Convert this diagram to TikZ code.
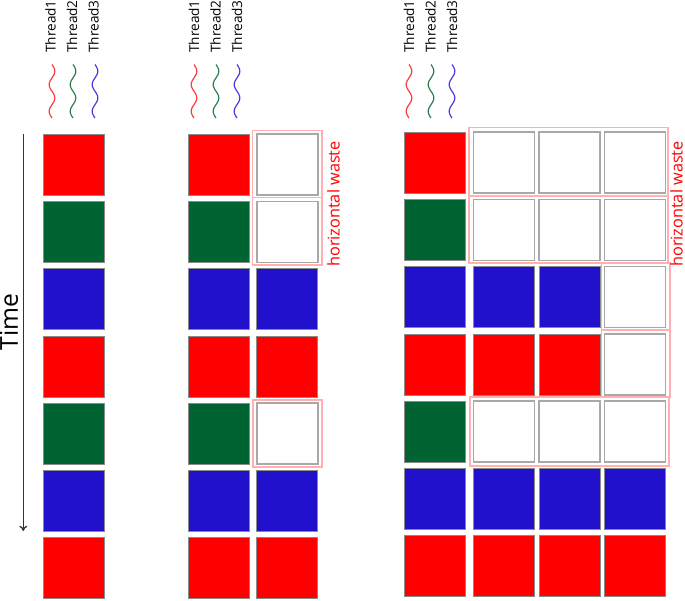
\documentclass[tikz,border=0pt]{standalone}
\usepackage{fontspec}
\newfontfamily\osans{Open Sans}
\usetikzlibrary{arrows.meta}
\definecolor{cred}{HTML}{FF0000}
\definecolor{cgreen}{HTML}{006432}
\definecolor{cblue}{HTML}{2211CC}
\definecolor{wred}{HTML}{FF3B3B}
\definecolor{wgreen}{HTML}{2E7D4E}
\definecolor{wblue}{HTML}{4A3BE0}
\definecolor{wastepink}{HTML}{FFB0B0}
\definecolor{cellgray}{HTML}{8A8A8A}
\definecolor{boxgray}{HTML}{A8A8A8}
\tikzset{
  cell/.style={draw=cellgray, line width=0.6pt, minimum size=45.75pt, inner sep=0pt, outer sep=0pt},
  rcell/.style={cell, fill=cred},
  gcell/.style={cell, fill=cgreen},
  bcell/.style={cell, fill=cblue},
  wcell/.style={cell, fill=white, draw=boxgray, line width=1.2pt},
  waste/.style={draw=wastepink, line width=0.8pt},
  thlbl/.style={font=\osans\fontsize{10.2}{12}\selectfont, rotate=90, anchor=west, inner sep=0pt},
  wastelbl/.style={font=\osans\fontsize{12.2}{14}\selectfont, text=red, rotate=90, anchor=west, inner sep=0pt},
  wave/.style={line width=0.9pt},
}
\begin{document}
\begin{tikzpicture}[x=0.75pt,y=-0.75pt]
\useasboundingbox (0,0) rectangle (685,600);
% Time axis
\coordinate (ts) at (23.3,134);
\coordinate (te) at (23.3,531);
\draw[line width=1pt, draw=black!80, -{To[length=4pt,width=6pt]}] (ts) -- (te);
\node[font=\osans\fontsize{18.5}{22}\selectfont, rotate=90, inner sep=0pt] (time) at (9,322) {Time};

% column 1
\foreach \s [count=\i from 0] in {rcell,gcell,bcell,rcell,gcell,bcell,rcell}
  \node[\s] (a\i) at (73.5,{164.5+67.3*\i}) {};
% column 2
\foreach \s [count=\i from 0] in {rcell,gcell,bcell,rcell,gcell,bcell,rcell}
  \node[\s] (b\i) at (218.5,{164.5+67.3*\i}) {};
\foreach \s [count=\i from 0] in {wcell,wcell,bcell,rcell,wcell,bcell,rcell}
  \node[\s] (bb\i) at (287.3,{164.5+67.3*\i}) {};
% column 3
\foreach \sa/\sb/\sc/\sd [count=\i from 0] in {rcell/wcell/wcell/wcell,gcell/wcell/wcell/wcell,bcell/bcell/bcell/wcell,rcell/rcell/rcell/wcell,gcell/wcell/wcell/wcell,bcell/bcell/bcell/bcell,rcell/rcell/rcell/rcell}{
  \node[\sa] (c\i a) at (434.5,{162.5+67.3*\i}) {};
  \node[\sb] (c\i b) at (503.8,{162.5+67.3*\i}) {};
  \node[\sc] (c\i c) at (569.7,{162.5+67.3*\i}) {};
  \node[\sd] (c\i d) at (635,{162.5+67.3*\i}) {};
}

% waste outlines column 2
\draw[waste] (252.5,130.5) rectangle (322,197.5);
\draw[waste] (252.5,197.5) rectangle (322,265);
\draw[waste] (253,400) rectangle (322,467);
% waste outlines column 3
\draw[waste] (469,127.5) rectangle (668,196);
\draw[waste] (469,196) rectangle (668,263);
\draw[waste] (601.5,263) rectangle (670,330);
\draw[waste] (601.5,330) rectangle (670,397);
\draw[waste] (470,397) rectangle (669,466);

\node[wastelbl] (w2) at (333.5,267) {horizontal waste};
\node[wastelbl] (w3) at (676.5,267) {horizontal waste};

% thread labels and waves
\foreach \wx/\n [count=\k] in {50.5/1,72/2,93.5/3}
  \node[thlbl] (ta\k) at (\wx,53) {Thread\n};
\foreach \wx/\n [count=\k] in {194/1,215.5/2,237/3}
  \node[thlbl] (tb\k) at (\wx,53) {Thread\n};
\foreach \wx/\n [count=\k] in {409/1,430.5/2,452/3}
  \node[thlbl] (tc\k) at (\wx,53) {Thread\n};

\foreach \wx/\c in {52/wred,73/wgreen,95/wblue,194/wred,216/wgreen,237/wblue,409/wred,431/wgreen,452/wblue}
  \draw[wave, draw=\c] plot[variable=\t, domain=0:1, samples=80, smooth] ({\wx+2.8*sin(720*\t)},{64.5+53.5*\t});
\end{tikzpicture}
\end{document}
